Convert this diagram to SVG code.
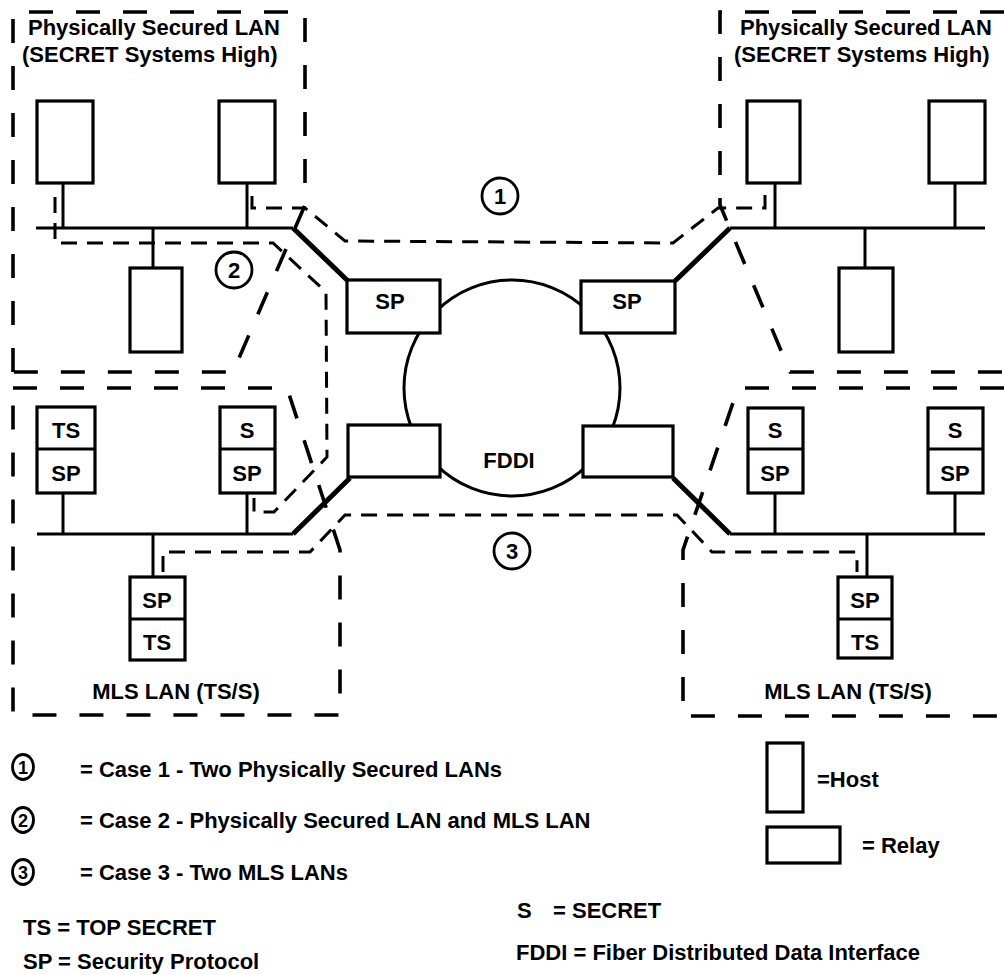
<svg xmlns="http://www.w3.org/2000/svg" width="1004" height="975" viewBox="0 0 1004 975">
<style>
.box{fill:#fff;stroke:#000;stroke-width:3.2}
.ln{stroke:#000;stroke-width:3;fill:none}
.lk{stroke:#000;stroke-width:5;fill:none}
.bnd{fill:none;stroke:#000;stroke-width:3.6;stroke-dasharray:24 23}
.cs{fill:none;stroke:#000;stroke-width:3;stroke-dasharray:16 10}
.cir{fill:#fff;stroke:#000;stroke-width:2.8}
text{font-family:"Liberation Sans",Arial,sans-serif;font-weight:bold;font-size:22px;fill:#000}
.c{text-anchor:middle}
.d{font-size:18px}
</style>
<rect width="1004" height="975" fill="#fff"/>

<g id="fddi">
<circle cx="512" cy="388" r="108" class="ln"/>
<text x="509" y="468" class="c">FDDI</text>
</g>

<g id="lan-tl">
<path class="bnd" d="M13,372 L13,12 L305,12 L305,205 L233,372 Z"/>
<text x="28" y="35">Physically Secured LAN</text>
<text x="22" y="62">(SECRET Systems High)</text>
<line class="ln" x1="36" y1="228" x2="293" y2="228"/>
<line class="ln" x1="63" y1="183" x2="63" y2="228"/>
<line class="ln" x1="247" y1="183" x2="247" y2="228"/>
<line class="ln" x1="153" y1="228" x2="153" y2="268"/>
<rect class="box" x="37" y="101" width="56" height="82"/>
<rect class="box" x="219" y="101" width="56" height="82"/>
<rect class="box" x="130" y="268" width="52" height="84"/>
</g>

<g id="lan-tr">
<path class="bnd" d="M1004,12 L720,12 L720,205 L790,372 L1004,372"/>
<text x="740" y="35">Physically Secured LAN</text>
<text x="734" y="62">(SECRET Systems High)</text>
<line class="ln" x1="730" y1="228" x2="985" y2="228"/>
<line class="ln" x1="775" y1="183" x2="775" y2="228"/>
<line class="ln" x1="955" y1="183" x2="955" y2="228"/>
<line class="ln" x1="865" y1="228" x2="865" y2="268"/>
<rect class="box" x="747" y="101" width="53" height="82"/>
<rect class="box" x="929" y="101" width="56" height="82"/>
<rect class="box" x="839" y="268" width="54" height="84"/>
</g>

<g id="mls-l">
<path class="bnd" d="M13,388 L287,388 L340,550 L340,715 L13,715 Z"/>
<text x="176" y="699" class="c">MLS LAN (TS/S)</text>
<line class="ln" x1="37" y1="534" x2="293" y2="534"/>
<line class="ln" x1="63" y1="493" x2="63" y2="534"/>
<line class="ln" x1="247" y1="493" x2="247" y2="534"/>
<line class="ln" x1="153" y1="534" x2="153" y2="577"/>
<rect class="box" x="37" y="407" width="58" height="86"/>
<line class="ln" x1="37" y1="449" x2="95" y2="449"/>
<text x="66" y="438" class="c">TS</text>
<text x="66" y="481" class="c">SP</text>
<rect class="box" x="220" y="407" width="55" height="86"/>
<line class="ln" x1="220" y1="449" x2="275" y2="449"/>
<text x="247" y="438" class="c">S</text>
<text x="247" y="481" class="c">SP</text>
<rect class="box" x="130" y="577" width="55" height="83"/>
<line class="ln" x1="130" y1="619" x2="185" y2="619"/>
<text x="157" y="608" class="c">SP</text>
<text x="157" y="650" class="c">TS</text>
</g>

<g id="mls-r">
<path class="bnd" d="M1004,388 L738,388 L683,550 L683,716 L1004,716"/>
<text x="848" y="699" class="c">MLS LAN (TS/S)</text>
<line class="ln" x1="730" y1="534" x2="985" y2="534"/>
<line class="ln" x1="775" y1="493" x2="775" y2="534"/>
<line class="ln" x1="955" y1="493" x2="955" y2="534"/>
<line class="ln" x1="867" y1="534" x2="867" y2="577"/>
<rect class="box" x="748" y="408" width="55" height="85"/>
<line class="ln" x1="748" y1="449" x2="803" y2="449"/>
<text x="775" y="438" class="c">S</text>
<text x="775" y="481" class="c">SP</text>
<rect class="box" x="928" y="408" width="55" height="85"/>
<line class="ln" x1="928" y1="449" x2="983" y2="449"/>
<text x="955" y="438" class="c">S</text>
<text x="955" y="481" class="c">SP</text>
<rect class="box" x="838" y="577" width="54" height="81"/>
<line class="ln" x1="838" y1="619" x2="892" y2="619"/>
<text x="865" y="608" class="c">SP</text>
<text x="865" y="650" class="c">TS</text>
</g>

<g id="connectors">
<line class="lk" x1="293" y1="228" x2="348" y2="281"/>
<line class="lk" x1="730" y1="228" x2="675" y2="281"/>
<line class="lk" x1="293" y1="534" x2="350" y2="478"/>
<line class="lk" x1="730" y1="534" x2="673" y2="478"/>
<path class="cs" d="M252,196 L252,208 L305,208 L345,241 L673,243 L718,208 L765,208 L765,195"/>
<path class="cs" d="M55,197 L55,243 L273,243 L326,292 L327,457 L274,512 L254,512 L254,498"/>
<path class="cs" d="M163,572 L163,552 L310,552 L345,515 L677,515 L712,552 L857,552 L857,572"/>
</g>

<g id="relays">
<rect class="box" x="347" y="280" width="93" height="53"/>
<text x="390" y="309" class="c">SP</text>
<rect class="box" x="581" y="281" width="94" height="52"/>
<text x="627" y="309" class="c">SP</text>
<rect class="box" x="348" y="425" width="92" height="52"/>
<rect class="box" x="583" y="426" width="90" height="51"/>
</g>

<g id="case-labels">
<circle class="cir" cx="500" cy="196" r="18"/>
<text x="500" y="204" class="c">1</text>
<circle class="cir" cx="234" cy="270" r="18"/>
<text x="234" y="278" class="c">2</text>
<circle class="cir" cx="512" cy="551" r="18"/>
<text x="512" y="559" class="c">3</text>
</g>

<g id="legend">
<ellipse class="cir" cx="23" cy="767" rx="10.5" ry="12.5"/>
<text x="23" y="774" class="c d">1</text>
<text x="80" y="777">= Case 1 - Two Physically Secured LANs</text>
<ellipse class="cir" cx="23" cy="820" rx="10.5" ry="12.5"/>
<text x="23" y="827" class="c d">2</text>
<text x="80" y="828">= Case 2 - Physically Secured LAN and MLS LAN</text>
<ellipse class="cir" cx="23" cy="872" rx="10.5" ry="12.5"/>
<text x="23" y="879" class="c d">3</text>
<text x="80" y="880">= Case 3 - Two MLS LANs</text>
<text x="23" y="935">TS = TOP SECRET</text>
<text x="23" y="969">SP = Security Protocol</text>
<text x="517" y="918">S</text>
<text x="553" y="918">= SECRET</text>
<text x="516" y="960">FDDI = Fiber Distributed Data Interface</text>
<rect class="box" x="767" y="743" width="36" height="69"/>
<text x="817" y="787">=Host</text>
<rect class="box" x="767" y="827" width="73" height="36"/>
<text x="862" y="853">= Relay</text>
</g>
</svg>
